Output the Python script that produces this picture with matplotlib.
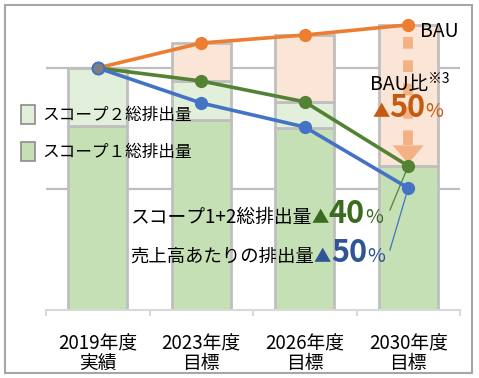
import numpy as np
import matplotlib.pyplot as plt
from matplotlib.patches import Rectangle, Polygon

plt.rcParams['font.family'] = ['Noto Sans CJK JP', 'DejaVu Sans']

# data (index: 2019 = 100)
years = ['2019年度\n実績', '2023年度\n目標', '2026年度\n目標', '2030年度\n目標']
scope1 = [76, 78.5, 75, 59.5]
scope2 = [24, 16.1, 11, 0]
total = [100, 94.6, 86, 59.5]        # スコープ1+2
per_sales = [100, 85.5, 75.6, 50.4]  # 売上高あたり
bau = [100, 110.3, 113.6, 117.8]

c_orange = '#ED7D31'
c_green = '#548235'
c_blue = '#4472C4'
c_edge = '#BFBFBF'

W, H = 479, 378
fig = plt.figure(figsize=(W / 100, H / 100), dpi=100)
ax = fig.add_axes([46 / W, (H - 310) / H, 414 / W, 305 / H])
renderer = fig.canvas.get_renderer()

x = np.arange(len(years))
bw = 0.57
s1 = np.array(scope1)
s2 = np.array(scope2)
tot = np.array(total)
ax.bar(x, s1, bw, color='#C5E0B4', edgecolor=c_edge, lw=2, zorder=2)
ax.bar(x, s2, bw, bottom=s1, color='#E2EFDA', edgecolor=c_edge, lw=2, zorder=2)
ax.bar(x[1:], (np.array(bau) - tot)[1:], bw, bottom=tot[1:], color='#FBE5D6',
       edgecolor=c_edge, lw=2, zorder=2)

ax.set_xlim(-0.5, 3.5)
ax.set_ylim(0, 126)
ax.set_yticks([50, 100])
ax.yaxis.grid(True, color=c_edge, lw=1.6, zorder=0)
ax.tick_params(axis='y', length=0, labelleft=False)
for s in ['top', 'right', 'left']:
    ax.spines[s].set_visible(False)
ax.spines['bottom'].set_color('#D9D9D9')
ax.spines['bottom'].set_linewidth(1.5)
ax.set_xticks(x)
ax.set_xticklabels(years, fontsize=13.5, linespacing=0.92)
ax.tick_params(axis='x', length=0, pad=17)
ax.set_xticks(np.arange(-0.5, 4, 1), minor=True)
ax.tick_params(axis='x', which='minor', length=4.5, width=1.5, color='#D9D9D9')

# lines
ax.plot(x, bau, color=c_orange, lw=2.6, marker='o', ms=8.5, zorder=4)
ax.plot(x, total, color=c_green, lw=2.6, marker='o', ms=8.5, zorder=5)
ax.plot(x, per_sales, color=c_blue, lw=2.6, marker='o', ms=8.5, zorder=6)
ax.plot(x[0], total[0], marker='o', ms=8.5, mfc='#7F7F7F', mec=c_blue, mew=1.5, zorder=7)

# leader lines
ax.plot([2.823, 3], [41.3, total[3]], color=c_green, lw=0.9, zorder=5)
ax.plot([2.823, 3], [24.8, per_sales[3]], color=c_blue, lw=0.9, zorder=6)

# BAU dashed arrow
head_top = total[3] + 8.5
ax.plot([3, 3], [bau[3] - 5, head_top + 4], color='#F4B183', lw=7,
        dashes=(1.2, 1.2), solid_capstyle='butt', dash_capstyle='butt', zorder=3)
ax.plot([3, 3], [head_top + 5, head_top], color='#F4B183', lw=7,
        solid_capstyle='butt', zorder=3)
ax.add_patch(Polygon([[3 - 0.15, head_top], [3 + 0.15, head_top], [3, total[3] + 1]],
                     closed=True, color='#F4B183', lw=0, zorder=3))


def run_text(px, py, pieces):
    xf = px / W
    for s, size, color, weight, dy in pieces:
        t = fig.text(xf, (H - py + dy) / H, s, fontsize=size, color=color,
                     fontweight=weight, ha='left', va='baseline')
        xf += t.get_window_extent(renderer).width / fig.bbox.width


g_txt = '#3A6B1F'
b_txt = '#2F5597'
o_txt = '#C55A11'
run_text(130, 223, [('スコープ1+2総排出量', 13.5, 'black', 'normal', 0),
                    ('▲', 12.5, g_txt, 'normal', 0),
                    ('40', 22, g_txt, 'bold', 0),
                    ('%', 14, g_txt, 'normal', 0)])
run_text(130, 262, [('売上高あたりの排出量', 13.2, 'black', 'normal', 0),
                    ('▲', 12.5, b_txt, 'normal', 0),
                    ('50', 22, b_txt, 'bold', 0),
                    ('%', 14, b_txt, 'normal', 0)])
run_text(420, 37, [('BAU', 14, 'black', 'normal', 0)])
run_text(370, 90, [('BAU比', 14, 'black', 'normal', 0),
                   ('※3', 10, 'black', 'normal', 7)])
run_text(372, 117, [('▲', 12.5, o_txt, 'normal', 0),
                    ('50', 22, o_txt, 'bold', 0),
                    ('%', 14, o_txt, 'normal', 0)])

# legend
for py, col, lab in [(105, '#E2EFDA', 'スコープ２総排出量'), (142, '#C5E0B4', 'スコープ１総排出量')]:
    fig.patches.append(Rectangle((21 / W, (H - py - 19) / H), 14 / W, 19 / H,
                                 transform=fig.transFigure, facecolor=col,
                                 edgecolor='#8C8C8C', lw=1.2))
    run_text(42, py + 15, [(lab, 12, 'black', 'normal', 0)])

# outer frame
fig.patches.append(Rectangle((5 / W, 5 / H), 467 / W, 368 / H, transform=fig.transFigure,
                             fill=False, edgecolor='#A6A6A6', lw=1.5))

fig.savefig('out.png', dpi=100)
